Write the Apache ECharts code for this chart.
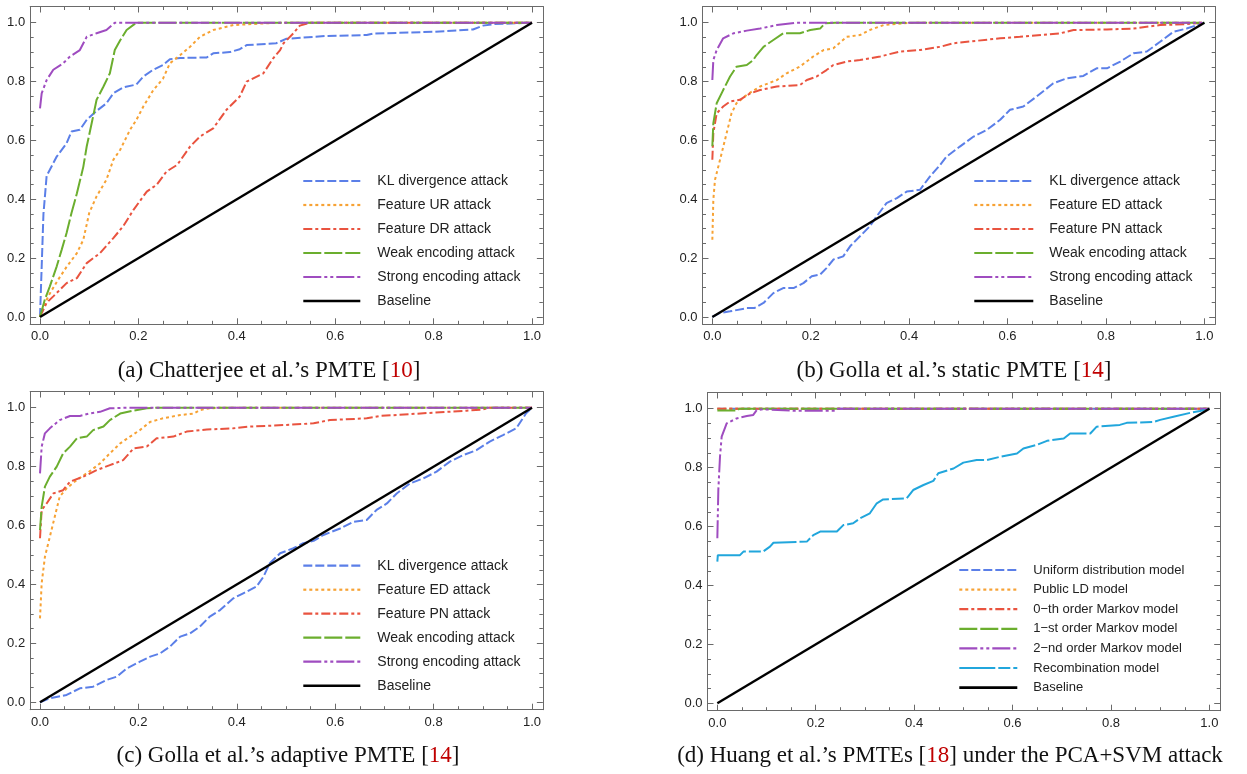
<!DOCTYPE html>
<html><head><meta charset="utf-8">
<script src="https://cdn.jsdelivr.net/npm/echarts@6/dist/echarts.min.js"></script>
<style>html,body{margin:0;padding:0;background:#fff}#c{width:1247px;height:774px}</style>
</head><body><div id="c"></div>
<script>
// ---------- tick values ----------
const majorTicks = [0, 0.2, 0.4, 0.6, 0.8, 1.0];
const minorTicks = [0.05, 0.1, 0.15, 0.25, 0.3, 0.35, 0.45, 0.5, 0.55, 0.65, 0.7, 0.75, 0.85, 0.9, 0.95];

// ---------- captions ----------
const captionsText = ["(a) Chatterjee et al.\u2019s PMTE [", "(b) Golla et al.\u2019s static PMTE [", "(c) Golla et al.\u2019s adaptive PMTE [", "(d) Huang et al.\u2019s PMTEs ["];
const captionsRef = ["10", "14", "14", "18"];
const captionsTail = ["]", "]", "]", "] under the PCA+SVM attack"];

// ---------- legend names ----------
const namesA = ["KL divergence attack", "Feature UR attack", "Feature DR attack", "Weak encoding attack", "Strong encoding attack", "Baseline"];
const namesB = ["KL divergence attack", "Feature ED attack", "Feature PN attack", "Weak encoding attack", "Strong encoding attack", "Baseline"];
const namesC = ["KL divergence attack", "Feature ED attack", "Feature PN attack", "Weak encoding attack", "Strong encoding attack", "Baseline"];
const namesD = ["Uniform distribution model", "Public LD model", "0\u2212th order Markov model", "1\u2212st order Markov model", "2\u2212nd order Markov model", "Recombination model", "Baseline"];

// ---------- panel (a) ----------
const aKL = [[0,0],[0.0034,0.17],[0.007,0.35],[0.0135,0.48],[0.02,0.5],[0.034,0.545],[0.054,0.59],[0.064,0.63],[0.081,0.636],[0.095,0.67],[0.115,0.70],[0.135,0.726],[0.149,0.76],[0.169,0.78],[0.196,0.79],[0.21,0.817],[0.23,0.84],[0.25,0.856],[0.264,0.876],[0.285,0.88],[0.339,0.882],[0.352,0.896],[0.386,0.9],[0.406,0.91],[0.42,0.924],[0.48,0.93],[0.50,0.945],[0.556,0.952],[0.583,0.955],[0.664,0.958],[0.677,0.963],[0.799,0.969],[0.88,0.977],[0.90,0.99],[0.921,0.995],[1,1]];
const aUR = [[0,0],[0.007,0.036],[0.02,0.08],[0.037,0.127],[0.054,0.17],[0.075,0.217],[0.088,0.262],[0.1,0.353],[0.115,0.41],[0.135,0.466],[0.149,0.534],[0.163,0.568],[0.183,0.636],[0.196,0.67],[0.21,0.715],[0.23,0.77],[0.25,0.81],[0.264,0.862],[0.285,0.89],[0.305,0.918],[0.325,0.952],[0.352,0.975],[0.393,0.992],[0.46,0.998],[0.5,1],[1,1]];
const aDR = [[0,0],[0.0135,0.048],[0.027,0.07],[0.054,0.115],[0.075,0.132],[0.095,0.183],[0.122,0.217],[0.149,0.268],[0.169,0.308],[0.19,0.364],[0.217,0.426],[0.237,0.449],[0.257,0.494],[0.279,0.517],[0.305,0.579],[0.325,0.613],[0.352,0.641],[0.379,0.704],[0.406,0.749],[0.42,0.8],[0.454,0.828],[0.474,0.879],[0.488,0.907],[0.495,0.93],[0.515,0.964],[0.528,0.99],[0.549,1],[1,1]];
const aWeak = [[0,0],[0.01,0.06],[0.02,0.104],[0.034,0.172],[0.044,0.228],[0.054,0.285],[0.064,0.353],[0.075,0.42],[0.088,0.51],[0.095,0.58],[0.105,0.658],[0.115,0.738],[0.129,0.783],[0.142,0.828],[0.152,0.907],[0.163,0.94],[0.176,0.975],[0.196,1],[1,1]];
const aStrong = [[0,0.709],[0.0034,0.76],[0.0135,0.805],[0.027,0.84],[0.047,0.862],[0.061,0.885],[0.081,0.907],[0.095,0.952],[0.115,0.964],[0.135,0.975],[0.152,1],[1,1]];
const baseline = [[0,0],[1,1]];

// ---------- panel (b) ----------
const bKL = [[0,0],[0.0156,0.0136],[0.036,0.019],[0.07,0.03],[0.085,0.03],[0.104,0.0475],[0.124,0.081],[0.144,0.098],[0.165,0.098],[0.185,0.115],[0.202,0.138],[0.219,0.144],[0.232,0.166],[0.246,0.195],[0.266,0.206],[0.28,0.24],[0.3,0.274],[0.32,0.308],[0.334,0.342],[0.354,0.387],[0.375,0.404],[0.395,0.426],[0.422,0.432],[0.442,0.477],[0.463,0.517],[0.476,0.545],[0.503,0.579],[0.531,0.613],[0.558,0.636],[0.585,0.67],[0.605,0.704],[0.632,0.715],[0.659,0.749],[0.693,0.794],[0.72,0.811],[0.754,0.819],[0.781,0.845],[0.802,0.845],[0.829,0.868],[0.856,0.896],[0.883,0.902],[0.91,0.935],[0.937,0.969],[0.964,0.98],[1,1]];
const bED = [[0,0.262],[0.002,0.398],[0.0054,0.466],[0.0156,0.534],[0.029,0.624],[0.039,0.692],[0.049,0.726],[0.07,0.755],[0.097,0.783],[0.131,0.805],[0.151,0.828],[0.178,0.851],[0.205,0.885],[0.226,0.907],[0.246,0.913],[0.273,0.952],[0.3,0.958],[0.32,0.975],[0.348,0.992],[0.388,0.998],[0.42,1],[1,1]];
const bPN = [[0,0.534],[0.002,0.624],[0.0088,0.692],[0.022,0.715],[0.036,0.732],[0.056,0.738],[0.077,0.76],[0.097,0.771],[0.131,0.783],[0.178,0.788],[0.192,0.805],[0.212,0.817],[0.232,0.839],[0.246,0.856],[0.273,0.868],[0.3,0.873],[0.341,0.885],[0.381,0.902],[0.422,0.907],[0.463,0.918],[0.49,0.93],[0.585,0.947],[0.625,0.952],[0.707,0.964],[0.734,0.975],[0.802,0.977],[0.856,0.98],[0.91,0.992],[0.964,0.995],[1,1]];
const bWeak = [[0,0.58],[0.002,0.658],[0.0088,0.726],[0.022,0.771],[0.036,0.817],[0.049,0.85],[0.07,0.856],[0.083,0.873],[0.09,0.89],[0.104,0.918],[0.124,0.941],[0.144,0.964],[0.178,0.964],[0.199,0.975],[0.219,0.98],[0.229,0.998],[0.25,1],[1,1]];
const bStrong = [[0,0.805],[0.002,0.873],[0.0088,0.907],[0.022,0.947],[0.043,0.964],[0.07,0.973],[0.097,0.98],[0.131,0.992],[0.171,1],[1,1]];

// ---------- panel (c) ----------
const cKL = [[0,0],[0.02,0.0136],[0.054,0.025],[0.081,0.0475],[0.108,0.053],[0.135,0.076],[0.156,0.087],[0.176,0.115],[0.203,0.138],[0.224,0.155],[0.244,0.166],[0.264,0.189],[0.285,0.223],[0.305,0.234],[0.325,0.257],[0.345,0.291],[0.366,0.313],[0.393,0.353],[0.413,0.37],[0.44,0.393],[0.454,0.426],[0.467,0.472],[0.488,0.506],[0.515,0.523],[0.535,0.54],[0.556,0.548],[0.576,0.568],[0.61,0.59],[0.637,0.613],[0.664,0.619],[0.684,0.653],[0.705,0.675],[0.725,0.709],[0.752,0.743],[0.779,0.76],[0.806,0.783],[0.833,0.817],[0.86,0.839],[0.887,0.856],[0.914,0.885],[0.941,0.907],[0.968,0.93],[0.988,0.981],[1,1]];
const cED = [[0,0.285],[0.0034,0.404],[0.01,0.494],[0.02,0.562],[0.03,0.63],[0.04,0.698],[0.054,0.726],[0.075,0.755],[0.1,0.783],[0.122,0.811],[0.142,0.845],[0.163,0.879],[0.183,0.902],[0.203,0.924],[0.224,0.952],[0.25,0.964],[0.285,0.975],[0.312,0.98],[0.325,0.992],[0.345,0.998],[0.37,1],[1,1]];
const cPN = [[0,0.557],[0.0034,0.653],[0.0135,0.675],[0.027,0.709],[0.047,0.72],[0.061,0.749],[0.088,0.766],[0.115,0.788],[0.142,0.805],[0.169,0.822],[0.19,0.862],[0.217,0.868],[0.237,0.896],[0.271,0.902],[0.298,0.919],[0.339,0.926],[0.393,0.93],[0.427,0.936],[0.495,0.941],[0.556,0.947],[0.589,0.958],[0.664,0.964],[0.691,0.972],[0.799,0.983],[0.867,0.99],[0.9,0.994],[0.914,1],[1,1]];
const cWeak = [[0,0.585],[0.0034,0.664],[0.01,0.732],[0.02,0.766],[0.034,0.8],[0.047,0.845],[0.061,0.868],[0.075,0.896],[0.095,0.902],[0.108,0.924],[0.129,0.936],[0.142,0.958],[0.163,0.98],[0.19,0.99],[0.217,0.998],[0.24,1],[1,1]];
const cStrong = [[0,0.777],[0.0034,0.868],[0.01,0.913],[0.02,0.93],[0.04,0.958],[0.061,0.972],[0.081,0.972],[0.1,0.98],[0.122,0.986],[0.142,0.998],[0.176,1],[1,1]];

// ---------- panel (d) ----------
const dUniform = [[0,1],[1,1]];
const dPublicLD = [[0,1],[1,1]];
const dMarkov0 = [[0,1],[1,1]];
const dMarkov1 = [[0,0.994],[0.04,0.994],[0.045,1],[1,1]];
const dMarkov2 = [[0,0.56],[0.002,0.724],[0.0054,0.837],[0.0088,0.905],[0.019,0.95],[0.039,0.967],[0.06,0.975],[0.073,0.979],[0.08,0.995],[0.093,0.998],[0.154,0.993],[0.24,0.993],[0.245,1],[1,1]];
const dRecomb = [[0,0.481],[0.001,0.503],[0.046,0.503],[0.053,0.515],[0.093,0.515],[0.107,0.532],[0.114,0.545],[0.182,0.549],[0.195,0.571],[0.209,0.583],[0.243,0.583],[0.256,0.605],[0.276,0.611],[0.29,0.628],[0.31,0.645],[0.324,0.679],[0.337,0.692],[0.385,0.696],[0.398,0.724],[0.419,0.741],[0.439,0.755],[0.449,0.781],[0.48,0.797],[0.5,0.817],[0.527,0.826],[0.548,0.826],[0.575,0.837],[0.609,0.848],[0.622,0.865],[0.649,0.877],[0.67,0.891],[0.704,0.899],[0.717,0.916],[0.758,0.916],[0.771,0.939],[0.818,0.945],[0.832,0.952],[0.886,0.955],[0.9,0.962],[0.927,0.973],[0.961,0.986],[0.981,0.992],[1,1]];

// ---------- styles (kept apart from data) ----------
const C_BLUE = '#5B7FE8', C_ORANGE = '#F7A234', C_RED = '#E9533F', C_GREEN = '#6BAE2E', C_PURPLE = '#9F4CC0', C_CYAN = '#21A6DC';
const D_DASH = [9, 3], D_DOT = [3, 3], D_DASHDOT = [9, 3, 3, 3], D_LONG = [18, 3], D_DASHDOTDOT = [18, 3, 3, 3, 3, 3], D_CYAN = [36, 3, 12, 3];
const styleOf = [
  [[C_BLUE, D_DASH], [C_ORANGE, D_DOT], [C_RED, D_DASHDOT], [C_GREEN, D_LONG], [C_PURPLE, D_DASHDOTDOT], ['#000', 'solid']],
  [[C_BLUE, D_DASH], [C_ORANGE, D_DOT], [C_RED, D_DASHDOT], [C_GREEN, D_LONG], [C_PURPLE, D_DASHDOTDOT], ['#000', 'solid']],
  [[C_BLUE, D_DASH], [C_ORANGE, D_DOT], [C_RED, D_DASHDOT], [C_GREEN, D_LONG], [C_PURPLE, D_DASHDOTDOT], ['#000', 'solid']],
  [[C_BLUE, D_DASH], [C_ORANGE, D_DOT], [C_RED, D_DASHDOT], [C_GREEN, D_LONG], [C_PURPLE, D_DASHDOTDOT], [C_CYAN, D_CYAN], ['#000', 'solid']]
];

const panelNames = [namesA, namesB, namesC, namesD];
const panelData = [
  [aKL, aUR, aDR, aWeak, aStrong, baseline],
  [bKL, bED, bPN, bWeak, bStrong, baseline],
  [cKL, cED, cPN, cWeak, cStrong, baseline],
  [dUniform, dPublicLD, dMarkov0, dMarkov1, dMarkov2, dRecomb, baseline]
];

// layout
const gridsPos = [
  {left: 30.16, top: 6.5, width: 512.7, height: 317.8},
  {left: 702.5, top: 6.5, width: 512.7, height: 317.8},
  {left: 30.16, top: 391.5, width: 512.7, height: 318.2},
  {left: 707.5, top: 392.5, width: 512.7, height: 318.2}
];
const legendPos = [
  {left: 302, top: 174, itemWidth: 57, itemHeight: 14, itemGap: 10, fs: 14, pad: 12},
  {left: 973, top: 174, itemWidth: 59, itemHeight: 14, itemGap: 10, fs: 14, pad: 11},
  {left: 302, top: 558.7, itemWidth: 57, itemHeight: 14, itemGap: 10, fs: 14, pad: 12},
  {left: 958, top: 563.5, itemWidth: 58, itemHeight: 13, itemGap: 6.6, fs: 13, pad: 11}
];
const captionPos = [[269, 371], [954, 371], [288, 756], [950, 756]];

const FONT = '"Liberation Sans", Arial, sans-serif';
const SERIF = '"Liberation Serif", "Times New Roman", serif';
const FRAME = '#6a6a6a';
const fmt = v => Number(v).toFixed(1);

const xAxes = [], yAxes = [], series = [], legends = [], graphics = [];
gridsPos.forEach((g, gi) => {
  const xBase = {type: 'value', gridIndex: gi, min: -0.02, max: 1.022, splitLine: {show: false}, animation: false};
  const yBase = {type: 'value', gridIndex: gi, min: -0.025, max: 1.055, splitLine: {show: false}, animation: false};
  const lineOn = {show: true, onZero: false, lineStyle: {color: FRAME, width: 1}};
  const lineOff = {show: false, onZero: false};
  const majT = {show: true, inside: true, length: 6, customValues: majorTicks, lineStyle: {color: FRAME, width: 1}};
  const minT = {show: true, inside: true, length: 3.5, customValues: minorTicks, lineStyle: {color: FRAME, width: 1}};
  const noLab = {show: false};
  xAxes.push(
    Object.assign({}, xBase, {position: 'bottom', axisLine: lineOn, axisTick: majT,
      axisLabel: {show: true, customValues: majorTicks, formatter: fmt, margin: 6, fontSize: 13, color: '#222', fontFamily: FONT}}),
    Object.assign({}, xBase, {position: 'bottom', axisLine: lineOff, axisTick: minT, axisLabel: noLab}),
    Object.assign({}, xBase, {position: 'top', axisLine: lineOn, axisTick: majT, axisLabel: noLab}),
    Object.assign({}, xBase, {position: 'top', axisLine: lineOff, axisTick: minT, axisLabel: noLab})
  );
  yAxes.push(
    Object.assign({}, yBase, {position: 'left', axisLine: lineOn, axisTick: majT,
      axisLabel: {show: true, customValues: majorTicks, formatter: fmt, margin: 5, fontSize: 13, color: '#222', fontFamily: FONT}}),
    Object.assign({}, yBase, {position: 'left', axisLine: lineOff, axisTick: minT, axisLabel: noLab}),
    Object.assign({}, yBase, {position: 'right', axisLine: lineOn, axisTick: majT, axisLabel: noLab}),
    Object.assign({}, yBase, {position: 'right', axisLine: lineOff, axisTick: minT, axisLabel: noLab})
  );
  const names = panelNames[gi];
  names.forEach((n, si) => {
    const st = styleOf[gi][si];
    const isBase = n === 'Baseline';
    series.push({
      type: 'line', name: n, xAxisIndex: gi * 4, yAxisIndex: gi * 4,
      data: panelData[gi][si], symbol: 'none', showSymbol: false, silent: true, animation: false,
      lineStyle: {color: st[0], width: isBase ? 2.4 : 2, type: st[1]},
      itemStyle: {color: st[0]}, z: 2 + si
    });
  });
  const lp = legendPos[gi];
  legends.push({
    orient: 'vertical', left: lp.left, top: lp.top, padding: 0,
    itemWidth: lp.itemWidth, itemHeight: lp.itemHeight, itemGap: lp.itemGap, selectedMode: false,
    itemStyle: {opacity: 0},
    textStyle: {fontSize: lp.fs, color: '#222', fontFamily: FONT, padding: [0, 0, 0, lp.pad], lineHeight: lp.itemHeight},
    data: names.map((n, si) => ({name: n, lineStyle: {color: styleOf[gi][si][0], type: styleOf[gi][si][1], width: n === 'Baseline' ? 2.6 : 2.2, opacity: 1}}))
  });
  const cp = captionPos[gi];
  graphics.push({
    type: 'text', x: cp[0], y: cp[1], silent: true,
    style: {
      text: '{t|' + captionsText[gi] + '}{r|' + captionsRef[gi] + '}{t|' + captionsTail[gi] + '}',
      align: 'center', verticalAlign: 'middle',
      rich: {
        t: {fontSize: 23, fontFamily: SERIF, fill: '#111'},
        r: {fontSize: 23, fontFamily: SERIF, fill: '#c00000'}
      }
    }
  });
});

const chart = echarts.init(document.getElementById('c'), null, {renderer: 'canvas'});
chart.setOption({
  animation: false,
  backgroundColor: '#fff',
  grid: gridsPos.map(g => Object.assign({containLabel: false}, g)),
  xAxis: xAxes,
  yAxis: yAxes,
  legend: legends,
  series: series,
  graphic: graphics
});
</script>
</body></html>
